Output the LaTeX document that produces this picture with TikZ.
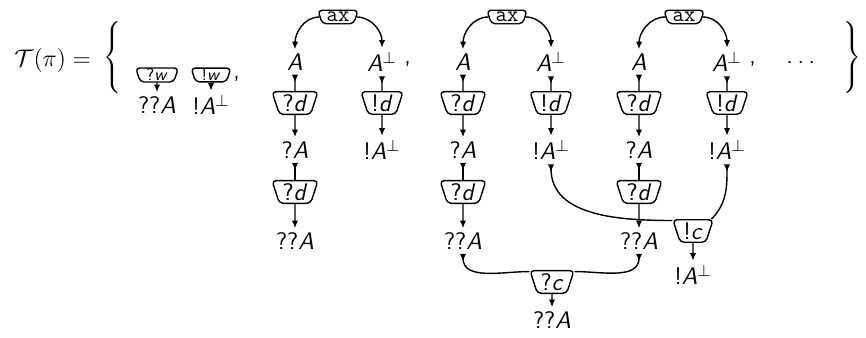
\documentclass[tikz,border=0pt]{standalone}
\usetikzlibrary{shapes.geometric,arrows.meta}
\newcommand{\fA}{\textit{A}}
\newcommand{\fAp}{\textit{A}$^{\perp}$}
\tikzset{
  base/.style={font=\sffamily\fontsize{12}{14}\selectfont},
  cell/.style={base, trapezium, shape border rotate=180, trapezium angle=72,
    draw, line width=0.7pt, rounded corners=2pt, inner xsep=1.6pt, inner ysep=1.4pt, fill=white},
  wcell/.style={cell, font=\sffamily\fontsize{8.5}{9}\selectfont, inner xsep=3pt, inner ysep=0.5pt},
  axcell/.style={cell, font=\ttfamily\fontsize{11}{12}\selectfont, inner xsep=2.2pt, inner ysep=0.9pt},
  fml/.style={base, inner sep=2pt},
  punct/.style={base, anchor=base west, inner sep=0pt},
  wire/.style={line width=0.7pt, -{Latex[length=3.8pt,width=3.2pt]}},
  prem/.style={line width=0.7pt, {Latex[length=3.8pt,width=3.2pt,reversed]}-},
}
\begin{document}
\begin{tikzpicture}[x=0.5pt,y=-0.5pt]
\useasboundingbox (0,0) rectangle (866,337);

% left-hand side and braces
\node[anchor=east, font=\fontsize{13}{15}\selectfont] (lhs) at (98,60) {$\mathcal{T}(\pi) =$};
\node[inner sep=0pt] (lb) at (114,57) {$\left\{\vcenter{\hbox{\vrule height 38pt width 0pt}}\right.$};
\node[inner sep=0pt] (rb) at (851,57) {$\left.\vcenter{\hbox{\vrule height 38pt width 0pt}}\right\}$};

% weakenings
\node[wcell] (w1) at (157,75) {?\textit{w}};
\node[fml] (w1f) at (157,105) {??\fA};
\node[wcell] (w2) at (211,75) {!\textit{w}};
\node[fml] (w2f) at (211,105) {!\fAp};
\node[punct] (cm0) at (233,78) {,};
\draw[wire] (w1) -- (w1f);
\draw[wire] (w2) -- (w2f);

% first net
\node[axcell] (ax1) at (338,17) {ax};
\node[fml] (a1) at (295,62) {\fA};
\node[fml] (b1) at (382,62) {\fAp};
\node[punct] (cm1) at (404,63) {,};
\node[cell] (d11) at (295,103) {?\textit{d}};
\node[cell] (e11) at (382,103) {!\textit{d}};
\node[fml] (a12) at (295,150) {?\fA};
\node[fml] (b12) at (382,150) {!\fAp};
\node[cell] (d12) at (295,192) {?\textit{d}};
\node[fml] (a13) at (295,241) {??\fA};
\draw[wire] (ax1) to[out=180,in=90] (a1);
\draw[wire] (ax1) to[out=0,in=90] (b1);
\draw[prem] (a1) -- (d11);
\draw[prem] (b1) -- (e11);
\draw[wire] (d11) -- (a12);
\draw[wire] (e11) -- (b12);
\draw[prem] (a12) -- (d12);
\draw[wire] (d12) -- (a13);

% second net
\node[axcell] (ax2) at (507,17) {ax};
\node[fml] (a2) at (463,62) {\fA};
\node[fml] (b2) at (551,62) {\fAp};
\node[cell] (d21) at (463,103) {?\textit{d}};
\node[cell] (e21) at (551,103) {!\textit{d}};
\node[fml] (a22) at (463,150) {?\fA};
\node[fml] (b22) at (551,150) {!\fAp};
\node[cell] (d22) at (463,192) {?\textit{d}};
\node[fml] (a23) at (463,241) {??\fA};
\node[cell] (c2) at (552,282) {?\textit{c}};
\node[fml] (a24) at (552,320) {??\fA};
\draw[wire] (ax2) to[out=180,in=90] (a2);
\draw[wire] (ax2) to[out=0,in=90] (b2);
\draw[prem] (a2) -- (d21);
\draw[prem] (b2) -- (e21);
\draw[wire] (d21) -- (a22);
\draw[wire] (e21) -- (b22);
\draw[prem] (a22) -- (d22);
\draw[wire] (d22) -- (a23);
\draw[wire] (c2) -- (a24);

% third net
\node[axcell] (ax3) at (684,17) {ax};
\node[fml] (a3) at (639,62) {\fA};
\node[fml] (b3) at (727,62) {\fAp};
\node[punct] (cm3) at (749,63) {,};
\node[punct] (dots) at (786,63) {.\hspace{2.3pt}.\hspace{2.3pt}.};
\node[cell] (d31) at (639,103) {?\textit{d}};
\node[cell] (e31) at (727,103) {!\textit{d}};
\node[fml] (a32) at (639,150) {?\fA};
\node[fml] (b32) at (727,150) {!\fAp};
\node[cell] (d32) at (639,192) {?\textit{d}};
\node[fml] (a33) at (639,241) {??\fA};
\node[cell] (c3) at (693,231) {!\textit{c}};
\node[fml] (b34) at (693,275) {!\fAp};
\draw[wire] (ax3) to[out=180,in=90] (a3);
\draw[wire] (ax3) to[out=0,in=90] (b3);
\draw[prem] (a3) -- (d31);
\draw[prem] (b3) -- (e31);
\draw[wire] (d31) -- (a32);
\draw[wire] (e31) -- (b32);
\draw[prem] (a32) -- (d32);
\draw[wire] (d32) -- (a33);
\draw[wire] (c3) -- (b34);

% contractions
\draw[prem] (a23) to[out=-90,in=180] (c2.155);
\draw[prem] (a33) to[out=-90,in=0] (c2.25);
\draw[prem] (b22) to[out=-90,in=180] (c3.153);
\draw[prem] (b32) to[out=-90,in=45] (c3.33);
\end{tikzpicture}
\end{document}
